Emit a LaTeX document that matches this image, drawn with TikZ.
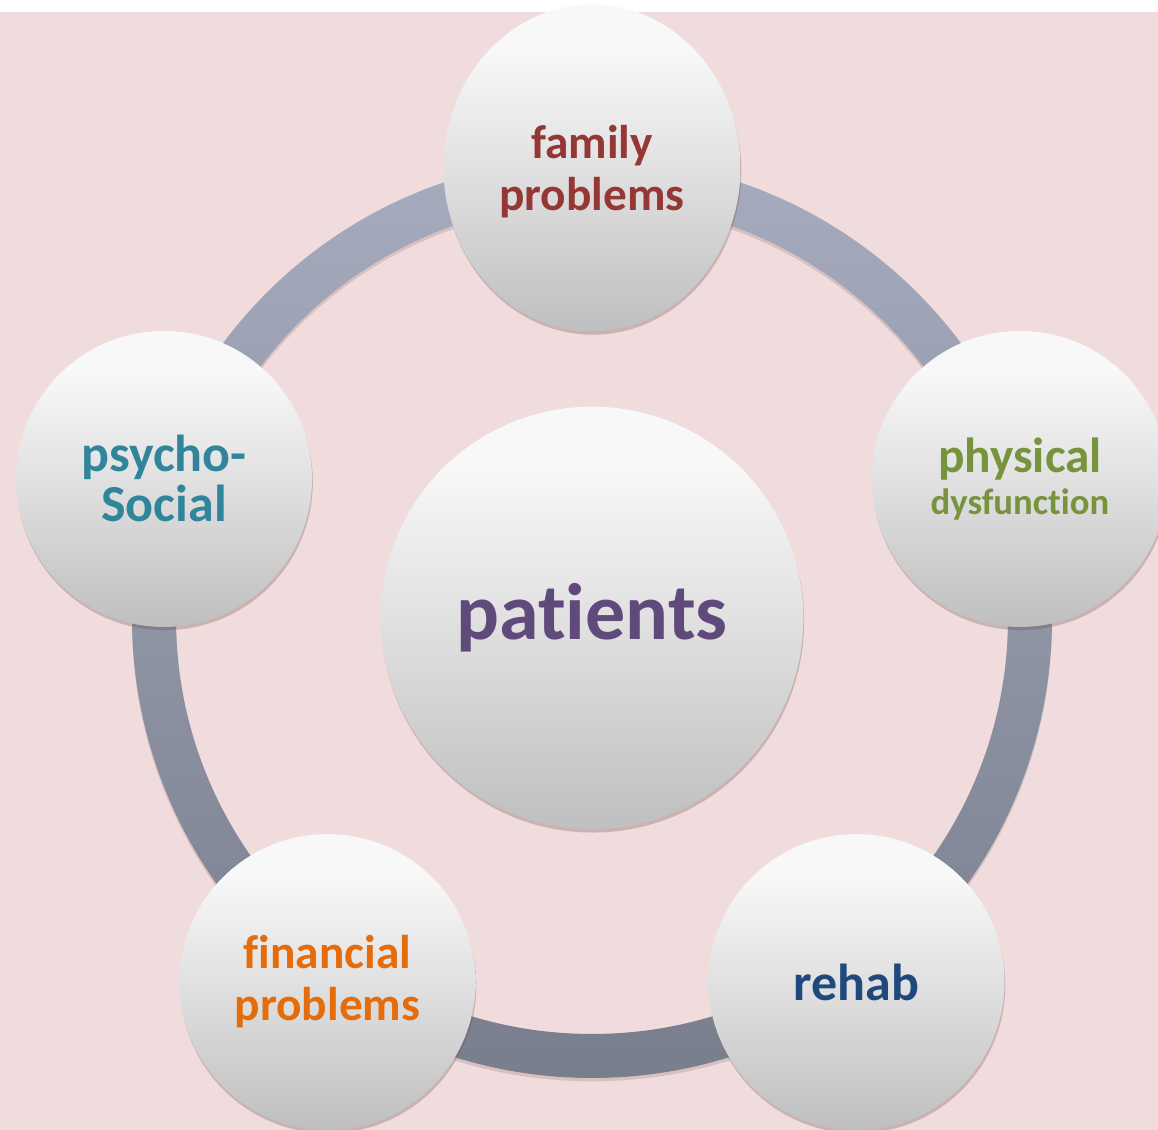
\documentclass[tikz,border=0pt]{standalone}
\usepackage{fontspec}
\setmainfont[Ligatures={NoCommon}]{Carlito}
\usetikzlibrary{shapes.geometric,shadows}
\definecolor{bgpink}{RGB}{240,220,220}
\definecolor{ringtop}{RGB}{166,171,190}
\definecolor{ringbot}{RGB}{120,126,140}
\definecolor{orbtop}{RGB}{248,248,248}
\definecolor{orbhigh}{RGB}{240,240,240}
\definecolor{orbmid}{RGB}{225,225,225}
\definecolor{orbbot}{RGB}{191,191,191}
\definecolor{shadowbrown}{RGB}{110,70,70}
\definecolor{famred}{RGB}{149,55,53}
\definecolor{physgreen}{RGB}{119,147,60}
\definecolor{rehabblue}{RGB}{31,73,125}
\definecolor{finorange}{RGB}{228,108,10}
\definecolor{psyteal}{RGB}{49,133,155}
\definecolor{patpurple}{RGB}{96,74,123}
\pgfdeclareverticalshading{orbshade}{100bp}{color(0bp)=(orbbot); color(25bp)=(orbbot); color(50bp)=(orbmid); color(62bp)=(orbhigh); color(68bp)=(orbtop); color(100bp)=(orbtop)}
\begin{document}
\begin{tikzpicture}[x=0.75pt,y=0.75pt,
    orb/.style={circle,shading=orbshade,minimum size=222pt,inner sep=0pt,align=center,
        drop shadow={shadow xshift=0.6pt,shadow yshift=-2.4pt,opacity=0.28,fill=shadowbrown}},
    ringshadow/.style={shadowbrown,opacity=0.18,even odd rule},
    ring/.style={top color=ringtop,bottom color=ringbot,even odd rule}]
\useasboundingbox (0,0) rectangle (1158,1130);
\fill[white] (0,0) rectangle (1158,1130);
\fill[bgpink] (0,0) rectangle (1158,1118);
\coordinate (c) at (592,512);
\fill[ringshadow] ([yshift=-2.5pt]c) circle[radius=460] ([yshift=-2.5pt]c) circle[radius=416];
\shade[ring] (c) circle[radius=460] (c) circle[radius=416];
\node[orb,minimum size=317pt,text=patpurple,font=\fontsize{60}{60}\selectfont\bfseries] (hub) at (c) {patients};
\path (c) ++(90:450) node[orb,ellipse,minimum width=222.75pt,minimum height=245.25pt,text=famred,
    font=\fontsize{35.5}{39}\selectfont\bfseries,text depth=0pt] (family) {family\\problems};
\path (c) ++(18:450) node[orb,text=physgreen,font=\fontsize{37}{32}\selectfont\bfseries] (physical)
    {physical\\{\fontsize{27.5}{32}\selectfont dysfunction}};
\path (c) ++(-54:450) node[orb,text=rehabblue,font=\fontsize{39}{39}\selectfont\bfseries] (rehab) {rehab};
\path (c) ++(-126:450) node[orb,text=finorange,font=\fontsize{35.5}{39}\selectfont\bfseries] (financial)
    {financial\\problems};
\path (c) ++(162:450) node[orb,text=psyteal,font=\fontsize{39}{37.5}\selectfont\bfseries] (psycho)
    {psycho-\\Social};
\end{tikzpicture}
\end{document}
